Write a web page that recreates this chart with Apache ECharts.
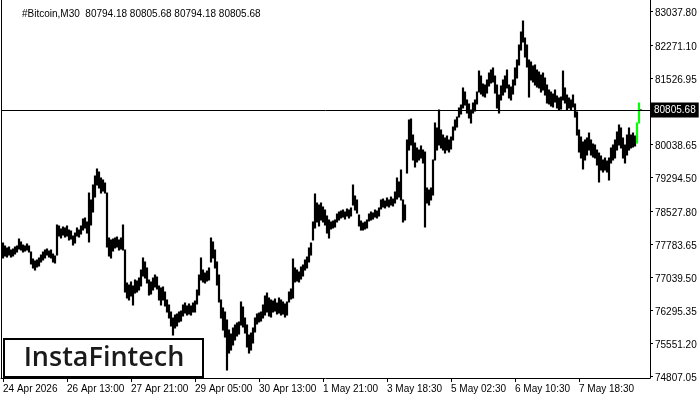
<!DOCTYPE html>
<html><head><meta charset="utf-8">
<script src="https://cdn.jsdelivr.net/npm/echarts@6/dist/echarts.min.js"></script>
<style>html,body{margin:0;padding:0;background:#fff}#c{width:700px;height:400px}</style>
</head><body><div id="c"></div>
<script>
// ---- data (one bar per 2 px column: high / low) ----
const symbolName = '#Bitcoin,M30';
const lastOHLC = [80794.18, 80805.68, 80794.18, 80805.68];
const bidPrice = 80805.68;
const priceLabels = [83037.80, 82271.10, 81526.95, 80038.65, 79294.50, 78527.80, 77783.65, 77039.50, 76295.35, 75551.20, 74807.05];
const timeLabels = ['24 Apr 2026', '26 Apr 13:00', '27 Apr 21:00', '29 Apr 05:00', '30 Apr 13:00', '1 May 21:00', '3 May 18:30', '5 May 02:30', '6 May 10:30', '7 May 18:30'];
const barsPerLabel = 32;
const signalBars = [317, 318];
const highs = [
77806,77739,77694,77716,77648,77671,77716,77739,77896,77829,
77761,77739,77784,77739,77603,77445,77400,77423,77468,77535,
77603,77648,77671,77625,77648,77558,77513,78212,78190,78122,
78167,78145,78190,78099,78076,77964,78031,78145,78099,78190,
78347,78370,78280,78933,78776,79114,79317,79475,79407,79272,
79227,79159,78933,77919,77874,77896,77919,77941,77874,77919,
78212,77648,76904,76859,76927,76837,76972,76949,77017,77197,
77468,77378,77243,76972,76927,77017,77084,77039,76837,76792,
76814,76701,76521,76408,76250,76115,76182,76205,76250,76272,
76408,76453,76386,76431,76386,76453,76498,76746,77084,77468,
77197,77129,77174,77243,77919,77829,77648,77378,77084,76521,
76341,76250,76070,75844,75754,75890,75957,76002,76025,76476,
76363,76115,75957,75731,75776,75890,76115,76205,76227,76250,
76408,76611,76678,76566,76521,76498,76543,76453,76566,76521,
76476,76431,76476,76701,76769,77445,77243,77197,77152,77265,
77310,77423,77490,77694,77806,78280,78911,78708,78663,78708,
78618,78550,78415,78325,78280,78302,78325,78460,78505,78527,
78550,78505,78573,78550,78596,79114,78866,78776,78437,78302,
78257,78280,78325,78460,78505,78482,78550,78527,78596,78776,
78798,78753,78821,78776,78843,78798,78956,79272,79182,79452,
78776,78663,80129,80580,80602,80241,80061,79949,79903,79994,
79903,79858,79047,79001,79047,79678,80512,80400,80805,80354,
80241,80174,80219,80129,80196,80422,80580,80647,80851,80918,
81302,81211,81031,80941,80805,80963,81031,81211,81684,81572,
81392,81369,81482,81639,81707,81753,81572,81369,81143,81347,
81482,81572,81707,81369,81324,81482,81753,81933,82271,82564,
82812,82429,82271,81933,81888,81798,81820,81707,81662,81594,
81639,81527,81369,81256,81211,81166,81256,81121,81076,81098,
81684,81302,81143,81076,81031,81143,80941,80760,80354,80196,
80084,80129,80174,80286,80129,80039,80016,79903,79835,79768,
79678,79723,79655,79723,79949,80016,80129,80309,80467,80400,
80174,80016,80241,80400,80241,80286,80219,80512,80963,80805.68
];
const lows = [
77468,77513,77490,77535,77490,77513,77558,77603,77671,77648,
77603,77625,77648,77603,77333,77243,77197,77265,77288,77378,
77423,77468,77535,77490,77468,77378,77355,77535,77964,77919,
77986,77941,77964,77874,77896,77761,77806,77964,77941,78009,
78099,78145,78031,77829,78212,78505,78843,79114,79047,78933,
78978,78933,77716,77513,77468,77625,77694,77716,77648,77671,
77648,76701,76566,76521,76611,76408,76678,76701,76746,76837,
77062,77017,76904,76633,76656,76746,76814,76769,76521,76408,
76521,76386,76250,76115,75935,75731,75890,75935,76025,76047,
76160,76227,76182,76205,76182,76250,76250,76431,76633,76972,
76927,76904,76949,76972,77378,77468,77243,76859,76476,76115,
75844,75686,74942,75325,75393,75506,75619,75709,75754,75957,
75912,75776,75461,75325,75393,75551,75799,75980,76025,76047,
76115,76182,76250,76160,76137,76250,76272,76205,76227,76182,
76205,76137,76182,76476,76543,76566,76927,76949,76927,76994,
77062,77197,77243,77378,77535,77874,78145,78280,78190,78325,
78280,78212,78031,77919,78122,78145,78167,78280,78325,78370,
78392,78347,78415,78370,78415,78663,78550,78482,78190,78099,
78099,78122,78145,78302,78325,78347,78392,78370,78415,78573,
78618,78596,78641,78618,78663,78641,78708,78798,78843,78776,
78280,78325,79384,79903,80016,79678,79520,79633,79678,79723,
79610,78167,78708,78663,78776,78888,79678,79903,80016,79949,
79903,79835,79903,79858,79926,80129,80354,80422,80647,80715,
80851,80918,80737,80625,80512,80737,80782,80941,81211,81166,
81121,81098,81188,81347,81414,81437,81188,80851,80737,81031,
81143,81211,81302,81076,81031,81166,81369,81527,81820,82158,
82339,82000,81775,81098,81482,81437,81369,81324,81302,81211,
81256,81143,80963,80941,80896,80873,80986,80851,80805,80828,
81031,80963,80805,80851,80805,80873,80647,80241,79858,79723,
79475,79678,79790,79903,79790,79745,79723,79565,79182,79452,
79407,79452,79407,79227,79610,79678,79723,79903,80016,79949,
79723,79610,79790,79903,79949,79971,79994,80061,80512,80794.18
];
// ---- axis ranges ----
const priceMin = 74761.95, priceMax = 83285.85;
const xMin = -1, xMax = 323.5;

const FONT = 'Liberation Sans';
const bars = highs.map((h, i) => [i, h, lows[i]]);
const tickVals = timeLabels.map((_, k) => k * barsPerLabel);

const chart = echarts.init(document.getElementById('c'), null, {renderer: 'canvas'});
chart.setOption({
  animation: false,
  backgroundColor: '#fff',
  title: {
    text: symbolName + '  ' + lastOHLC.map(v => v.toFixed(2)).join(' '),
    left: 17, top: 4,
    textStyle: {fontSize: 10, fontWeight: 'normal', fontFamily: FONT, color: '#000'}
  },
  grid: {left: 1, right: 50, top: 0, bottom: 22},
  xAxis: {
    type: 'value', min: xMin, max: xMax,
    axisLine: {show: true, onZero: false, lineStyle: {color: '#000', width: 1}},
    splitLine: {show: false},
    axisTick: {show: true, customValues: tickVals, length: 4, lineStyle: {color: '#000'}},
    axisLabel: {
      customValues: tickVals, align: 'left', margin: 6,
      formatter: v => timeLabels[Math.round(v / barsPerLabel)],
      color: '#000', fontSize: 10, fontFamily: FONT
    }
  },
  yAxis: [{
    type: 'value', position: 'right', min: priceMin, max: priceMax,
    axisLine: {show: true, onZero: false, lineStyle: {color: '#000', width: 1}},
    splitLine: {show: false},
    axisTick: {show: true, customValues: priceLabels, length: 3, lineStyle: {color: '#000'}},
    axisLabel: {
      customValues: priceLabels, margin: 5, verticalAlign: 'top', lineHeight: 4,
      formatter: v => v.toFixed(2),
      color: '#000', fontSize: 10, fontFamily: FONT
    }
  }, {
    type: 'value', position: 'left', min: priceMin, max: priceMax,
    axisLine: {show: true, onZero: false, lineStyle: {color: '#000', width: 1}},
    splitLine: {show: false}, axisTick: {show: false}, axisLabel: {show: false}
  }],
  series: [{
    type: 'custom',
    data: bars,
    encode: {x: 0, y: [1, 2]},
    renderItem: (params, api) => {
      const i = api.value(0);
      const p1 = api.coord([i, api.value(1)]);
      const p2 = api.coord([i, api.value(2)]);
      const green = signalBars.indexOf(i) >= 0;
      return {
        type: 'line',
        shape: {x1: p1[0], y1: p1[1] - 0.5, x2: p2[0], y2: p2[1] + 0.5},
        style: {stroke: green ? '#00ff00' : '#000', lineWidth: 2.2}
      };
    },
    markLine: {
      symbol: 'none', silent: true, animation: false,
      lineStyle: {color: '#000', width: 1, type: 'solid'},
      label: {
        position: 'end', distance: 1,
        formatter: bidPrice.toFixed(2),
        backgroundColor: '#000', color: '#fff',
        padding: [3, 3, 2, 3], fontSize: 10, fontFamily: FONT
      },
      data: [{yAxis: bidPrice}]
    }
  }],
  graphic: [{
    type: 'group', left: 3, bottom: 22,
    children: [
      {type: 'rect', shape: {x: 0, y: 0, width: 199, height: 38},
       style: {fill: '#fff', stroke: '#000', lineWidth: 2}},
      {type: 'text', x: 100, y: 19,
       style: {text: 'InstaFintech', fill: '#1a1a1a', font: '600 27px "Open Sans"',
               textAlign: 'center', textVerticalAlign: 'middle'}}
    ]
  }]
});
</script>
</body></html>
